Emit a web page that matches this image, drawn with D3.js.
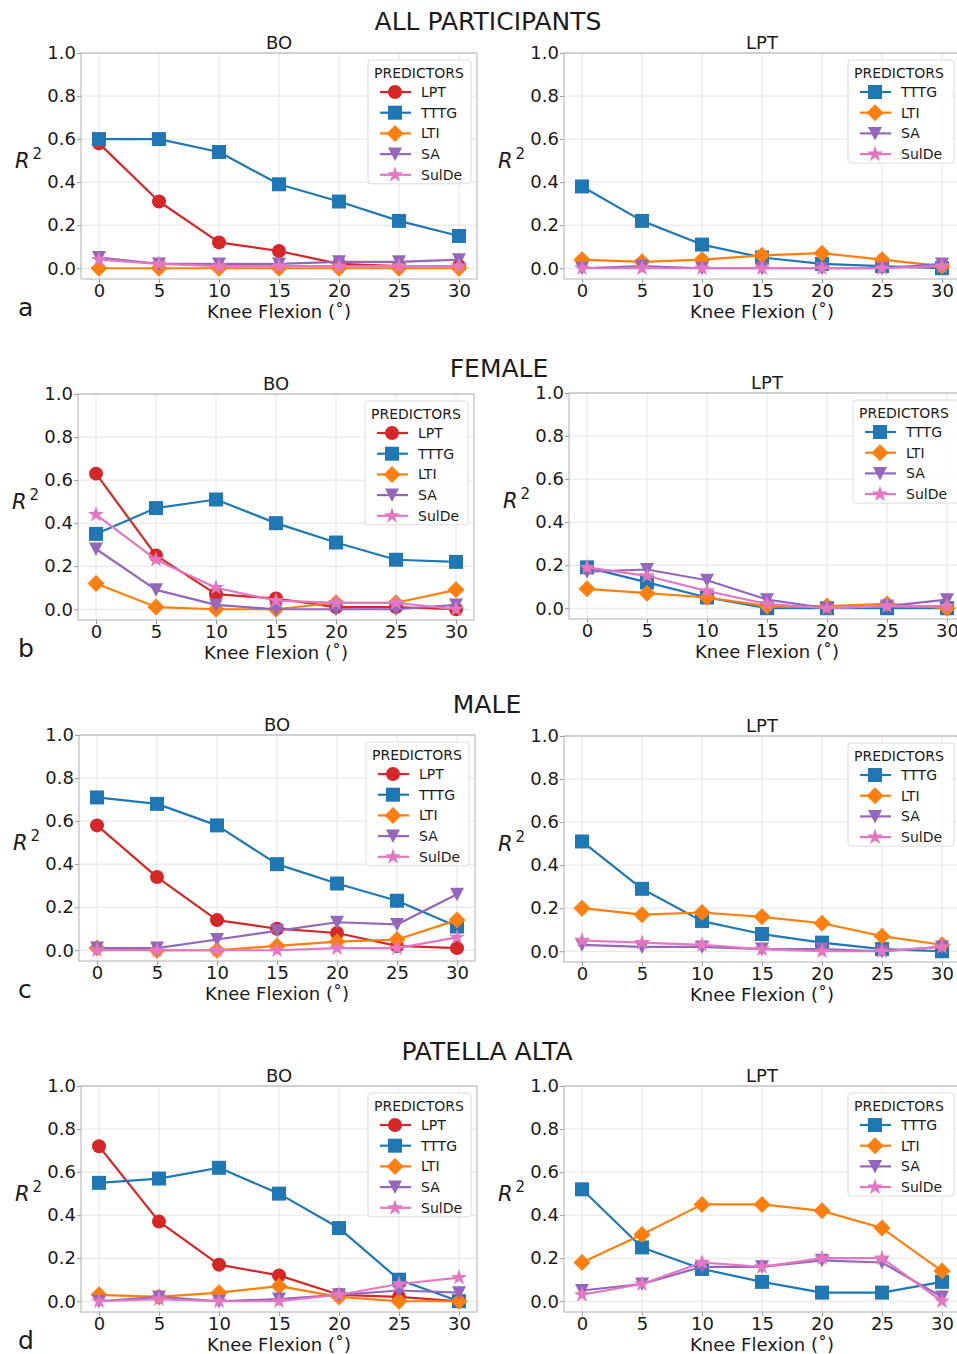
<!DOCTYPE html>
<html>
<head>
<meta charset="utf-8">
<script src="https://cdn.jsdelivr.net/npm/d3@7"></script>
<style>
body { margin: 0; background: #fff; }
text { font-family: "DejaVu Sans", sans-serif; fill: #1a1a1a; }
</style>
</head>
<body>
<div id="chart"></div>
<script>
var flexion = [0, 5, 10, 15, 20, 25, 30];
var xTicks = [0, 5, 10, 15, 20, 25, 30];
var yTicks = [0.0, 0.2, 0.4, 0.6, 0.8, 1.0];
var groups = ["ALL PARTICIPANTS", "FEMALE", "MALE", "PATELLA ALTA"];
var letters = ["a", "b", "c", "d"];
var outcomes = ["BO", "LPT"];
var predictorsBO = ["LPT", "TTTG", "LTI", "SA", "SulDe"];
var predictorsLPT = ["TTTG", "LTI", "SA", "SulDe"];

// all participants
var allBO_LPT   = [0.58, 0.31, 0.12, 0.08, 0.02, 0.01, 0.01];
var allBO_TTTG  = [0.60, 0.60, 0.54, 0.39, 0.31, 0.22, 0.15];
var allBO_LTI   = [0.00, 0.00, 0.00, 0.00, 0.00, 0.00, 0.00];
var allBO_SA    = [0.05, 0.02, 0.02, 0.02, 0.03, 0.03, 0.04];
var allBO_SulDe = [0.04, 0.02, 0.01, 0.01, 0.01, 0.01, 0.01];
var allLPT_TTTG  = [0.38, 0.22, 0.11, 0.05, 0.02, 0.01, 0.00];
var allLPT_LTI   = [0.04, 0.03, 0.04, 0.06, 0.07, 0.04, 0.01];
var allLPT_SA    = [0.00, 0.01, 0.00, 0.00, 0.00, 0.00, 0.02];
var allLPT_SulDe = [0.00, 0.00, 0.00, 0.00, 0.00, 0.00, 0.01];

// female
var femBO_LPT   = [0.63, 0.25, 0.07, 0.05, 0.01, 0.01, 0.00];
var femBO_TTTG  = [0.35, 0.47, 0.51, 0.40, 0.31, 0.23, 0.22];
var femBO_LTI   = [0.12, 0.01, 0.00, 0.00, 0.03, 0.03, 0.09];
var femBO_SA    = [0.28, 0.09, 0.02, 0.00, 0.00, 0.00, 0.02];
var femBO_SulDe = [0.44, 0.23, 0.10, 0.04, 0.03, 0.03, 0.00];
var femLPT_TTTG  = [0.19, 0.12, 0.05, 0.00, 0.00, 0.00, 0.00];
var femLPT_LTI   = [0.09, 0.07, 0.05, 0.01, 0.01, 0.02, 0.00];
var femLPT_SA    = [0.17, 0.18, 0.13, 0.04, 0.00, 0.01, 0.04];
var femLPT_SulDe = [0.19, 0.15, 0.08, 0.02, 0.00, 0.01, 0.01];

// male
var maleBO_LPT   = [0.58, 0.34, 0.14, 0.10, 0.08, 0.02, 0.01];
var maleBO_TTTG  = [0.71, 0.68, 0.58, 0.40, 0.31, 0.23, 0.11];
var maleBO_LTI   = [0.01, 0.00, 0.00, 0.02, 0.04, 0.05, 0.14];
var maleBO_SA    = [0.01, 0.01, 0.05, 0.09, 0.13, 0.12, 0.26];
var maleBO_SulDe = [0.00, 0.00, 0.00, 0.00, 0.01, 0.01, 0.06];
var maleLPT_TTTG  = [0.51, 0.29, 0.14, 0.08, 0.04, 0.01, 0.00];
var maleLPT_LTI   = [0.20, 0.17, 0.18, 0.16, 0.13, 0.07, 0.03];
var maleLPT_SA    = [0.03, 0.02, 0.02, 0.01, 0.01, 0.00, 0.02];
var maleLPT_SulDe = [0.05, 0.04, 0.03, 0.01, 0.00, 0.00, 0.02];

// patella alta
var paBO_LPT   = [0.72, 0.37, 0.17, 0.12, 0.03, 0.02, 0.00];
var paBO_TTTG  = [0.55, 0.57, 0.62, 0.50, 0.34, 0.10, 0.00];
var paBO_LTI   = [0.03, 0.02, 0.04, 0.07, 0.02, 0.00, 0.00];
var paBO_SA    = [0.00, 0.02, 0.00, 0.01, 0.03, 0.05, 0.04];
var paBO_SulDe = [0.00, 0.01, 0.00, 0.00, 0.03, 0.08, 0.11];
var paLPT_TTTG  = [0.52, 0.25, 0.15, 0.09, 0.04, 0.04, 0.09];
var paLPT_LTI   = [0.18, 0.31, 0.45, 0.45, 0.42, 0.34, 0.14];
var paLPT_SA    = [0.05, 0.08, 0.16, 0.16, 0.19, 0.18, 0.02];
var paLPT_SulDe = [0.03, 0.08, 0.18, 0.16, 0.20, 0.20, 0.00];

// lookup table built from the arrays above
var table = [
    { BO: { LPT: allBO_LPT, TTTG: allBO_TTTG, LTI: allBO_LTI, SA: allBO_SA, SulDe: allBO_SulDe },
      LPT: { TTTG: allLPT_TTTG, LTI: allLPT_LTI, SA: allLPT_SA, SulDe: allLPT_SulDe } },
    { BO: { LPT: femBO_LPT, TTTG: femBO_TTTG, LTI: femBO_LTI, SA: femBO_SA, SulDe: femBO_SulDe },
      LPT: { TTTG: femLPT_TTTG, LTI: femLPT_LTI, SA: femLPT_SA, SulDe: femLPT_SulDe } },
    { BO: { LPT: maleBO_LPT, TTTG: maleBO_TTTG, LTI: maleBO_LTI, SA: maleBO_SA, SulDe: maleBO_SulDe },
      LPT: { TTTG: maleLPT_TTTG, LTI: maleLPT_LTI, SA: maleLPT_SA, SulDe: maleLPT_SulDe } },
    { BO: { LPT: paBO_LPT, TTTG: paBO_TTTG, LTI: paBO_LTI, SA: paBO_SA, SulDe: paBO_SulDe },
      LPT: { TTTG: paLPT_TTTG, LTI: paLPT_LTI, SA: paLPT_SA, SulDe: paLPT_SulDe } }
];

var colors = { LPT: "#d62728", TTTG: "#1f77b4", LTI: "#ff7f0e", SA: "#9467bd", SulDe: "#e377c2" };

// layout (pixel positions of each row / panel)
var width = 957, height = 1354;
var pw = 396, ph = 226;
var rows = [
    { tx: 488, ty: 30,   panels: [[81, 53],   [564, 53]] },
    { tx: 499, ty: 377,  panels: [[78, 394],  [569, 393]] },
    { tx: 487, ty: 713,  panels: [[79, 735],  [564, 736]] },
    { tx: 487, ty: 1060, panels: [[81, 1086], [564, 1086]] }
];

function markerPath(name) {
    var p = d3.path();
    if (name === "LPT") {
        p.arc(0, 0, 7, 0, 2 * Math.PI);
    } else if (name === "TTTG") {
        p.rect(-7, -7, 14, 14);
    } else if (name === "LTI") {
        p.moveTo(0, -8.5); p.lineTo(8.5, 0); p.lineTo(0, 8.5); p.lineTo(-8.5, 0); p.closePath();
    } else if (name === "SA") {
        p.moveTo(-7, -6.5); p.lineTo(7, -6.5); p.lineTo(0, 7); p.closePath();
    } else {
        for (var i = 0; i < 10; i++) {
            var a = -Math.PI / 2 + i * Math.PI / 5;
            var r = i % 2 ? 3.3 : 8.5;
            if (i === 0) p.moveTo(r * Math.cos(a), r * Math.sin(a));
            else p.lineTo(r * Math.cos(a), r * Math.sin(a));
        }
        p.closePath();
    }
    return p.toString();
}

var svg = d3.select("#chart").append("svg")
    .attr("width", width)
    .attr("height", height);

var x = d3.scaleLinear().domain([-1.5, 31.5]).range([0, pw]);
var y = d3.scaleLinear().domain([-0.05, 1.0]).range([ph, 0]);

rows.forEach(function (row, ri) {
    svg.append("text")
        .attr("x", row.tx)
        .attr("y", row.ty)
        .attr("text-anchor", "middle")
        .style("font-size", "25px")
        .text(groups[ri]);

    svg.append("text")
        .attr("x", 18)
        .attr("y", row.panels[0][1] + y(0) + 48)
        .style("font-size", "25px")
        .text(letters[ri]);

    outcomes.forEach(function (outcome, pi) {
        var preds = outcome === "BO" ? predictorsBO : predictorsLPT;
        var g = svg.append("g")
            .attr("transform", "translate(" + row.panels[pi][0] + "," + row.panels[pi][1] + ")");

        // grid
        g.selectAll(".gx").data(xTicks).enter().append("line")
            .attr("x1", d => x(d)).attr("x2", d => x(d))
            .attr("y1", 0).attr("y2", ph)
            .attr("stroke", "#e3e3e3").attr("stroke-width", 1);
        g.selectAll(".gy").data(yTicks).enter().append("line")
            .attr("x1", 0).attr("x2", pw)
            .attr("y1", d => y(d)).attr("y2", d => y(d))
            .attr("stroke", "#e3e3e3").attr("stroke-width", 1);

        // axes
        var xAxis = g.append("g")
            .attr("transform", "translate(0," + ph + ")")
            .call(d3.axisBottom(x).tickValues(xTicks).tickSize(4).tickPadding(1).tickFormat(d3.format("d")));
        var yAxis = g.append("g")
            .call(d3.axisLeft(y).tickValues(yTicks).tickSize(4).tickPadding(1).tickFormat(d3.format(".1f")));
        [xAxis, yAxis].forEach(function (ax) {
            ax.select(".domain").remove();
            ax.selectAll(".tick line").attr("stroke", "#9a9a9a");
            ax.selectAll(".tick text")
                .style("font-size", "18px")
                .style("font-family", "DejaVu Sans")
                .attr("fill", "#1a1a1a");
        });

        g.append("rect")
            .attr("width", pw).attr("height", ph)
            .attr("fill", "none")
            .attr("stroke", "#b0b0b0").attr("stroke-width", 1);

        // titles
        g.append("text")
            .attr("x", pw / 2).attr("y", -4)
            .attr("text-anchor", "middle")
            .style("font-size", "18px")
            .text(outcome);

        g.append("text")
            .attr("x", pw / 2).attr("y", y(0) + 50)
            .attr("text-anchor", "middle")
            .style("font-size", "18px")
            .text("Knee Flexion (\u02DA)");

        var r2 = g.append("text")
            .attr("x", -66).attr("y", ph / 2 + 2)
            .style("font-size", "21px");
        r2.append("tspan").style("font-style", "italic").text("R");
        r2.append("tspan").attr("dx", 3).attr("dy", -9).style("font-size", "15px").text("2");

        // series
        var line = d3.line()
            .x((d, i) => x(flexion[i]))
            .y(d => y(d));

        preds.forEach(function (p) {
            var vals = table[ri][outcome][p];
            g.append("path")
                .datum(vals)
                .attr("fill", "none")
                .attr("stroke", colors[p])
                .attr("stroke-width", 2.2)
                .attr("stroke-linejoin", "round")
                .attr("d", line);
            g.selectAll(".m-" + p).data(vals).enter().append("path")
                .attr("transform", (d, i) => "translate(" + x(flexion[i]) + "," + y(d) + ")")
                .attr("d", markerPath(p))
                .attr("fill", colors[p]);
        });

        // legend
        var bw = outcome === "BO" ? 103 : 106;
        var bh = 32 + (preds.length - 1) * 20.7 + 9;
        var lg = g.append("g").attr("transform", "translate(" + (pw - 6 - bw) + ",7)");
        lg.append("rect")
            .attr("width", bw).attr("height", bh).attr("rx", 3)
            .attr("fill", "#fff").attr("fill-opacity", 0.85)
            .attr("stroke", "#dcdcdc");
        lg.append("text")
            .attr("x", 6).attr("y", 18)
            .style("font-size", "14px")
            .text("PREDICTORS");
        preds.forEach(function (p, i) {
            var cy = 32 + i * 20.7;
            lg.append("line")
                .attr("x1", 12).attr("x2", 43)
                .attr("y1", cy).attr("y2", cy)
                .attr("stroke", colors[p]).attr("stroke-width", 2.2);
            lg.append("path")
                .attr("transform", "translate(27," + cy + ")")
                .attr("d", markerPath(p))
                .attr("fill", colors[p]);
            lg.append("text")
                .attr("x", 53).attr("y", cy + 5)
                .style("font-size", "14px")
                .text(p);
        });
    });
});
</script>
</body>
</html>
